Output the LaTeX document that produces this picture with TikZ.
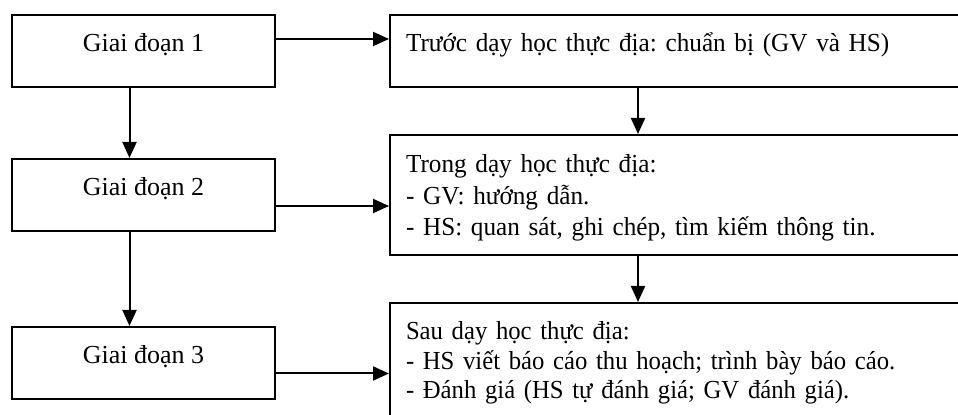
\documentclass[tikz,border=0pt]{standalone}
\usepackage{fontspec}
\setmainfont{Liberation Serif}
\newfontfamily\taskfont{Liberation Serif}[FakeStretch=0.97]
\newfontfamily\lasttaskfont{Liberation Serif}[FakeStretch=0.95]
\usetikzlibrary{arrows.meta}
\frenchspacing
\tikzset{
  stage/.style={draw, line width=1pt, anchor=north west, inner sep=0pt,
    minimum width=131.5pt, text height=18.5pt, text depth=17.5pt},
  task/.style={draw, line width=1pt, anchor=north west, inner ysep=0pt,
    inner xsep=8pt, text width=284pt, align=left, text height=18.5pt},
  arr/.style={line width=1pt, -{Triangle[length=8pt,width=7pt]}}
}
\begin{document}
\begin{tikzpicture}[x=0.5pt,y=-0.5pt,font=\fontsize{13}{14.5}\selectfont]
    \useasboundingbox (0,0) rectangle (958,415);
    \clip (0,0) rectangle (958,415);
    %% stages
    \node[stage] (g1) at (11,14) {Giai đoạn 1};
    \node[stage] (g2) at (11,158) {Giai đoạn 2};
    \node[stage] (g3) at (11,326) {Giai đoạn 3};
    %% what happens in each stage
    \node[task, text depth=17.5pt, font=\taskfont\fontsize{13}{14.5}\selectfont] (t1) at (389,14)
      {Trước dạy học thực địa: chuẩn bị (GV và HS)};
    \node[task, text depth=41pt, text height=19pt,
      font=\taskfont\fontsize{13}{15.75}\selectfont] (t2) at (389,134)
      {Trong dạy học thực địa:\\- GV: hướng dẫn.\\- HS: quan sát, ghi chép, tìm kiếm thông tin.};
    \node[task, text depth=60pt, font=\lasttaskfont\fontsize{13}{14.75}\selectfont] (t3) at (389,302)
      {Sau dạy học thực địa:\\- HS viết báo cáo thu hoạch; trình bày báo cáo.\\- Đánh giá (HS tự đánh giá; GV đánh giá).};
    %% arrows
    \draw[arr] ([yshift=6pt]g1.east) -- ([yshift=6pt]g1.east -| t1.west);
    \draw[arr] ([yshift=-5.5pt]g2.east) -- ([yshift=-5.5pt]g2.east -| t2.west);
    \draw[arr] ([yshift=-5.25pt]g3.east) -- ([yshift=-5.25pt]g3.east -| t3.west);
    \draw[arr] ([xshift=-7pt]g1.south) -- ([xshift=-7pt]g1.south |- g2.north);
    \draw[arr] ([xshift=-7pt]g2.south) -- ([xshift=-7pt]g2.south |- g3.north);
    \draw[arr] ([xshift=124.5pt]t1.south west) -- ([xshift=124.5pt]t1.south west |- t2.north);
    \draw[arr] ([xshift=124.5pt]t2.south west) -- ([xshift=124.5pt]t2.south west |- t3.north);
\end{tikzpicture}
\end{document}
